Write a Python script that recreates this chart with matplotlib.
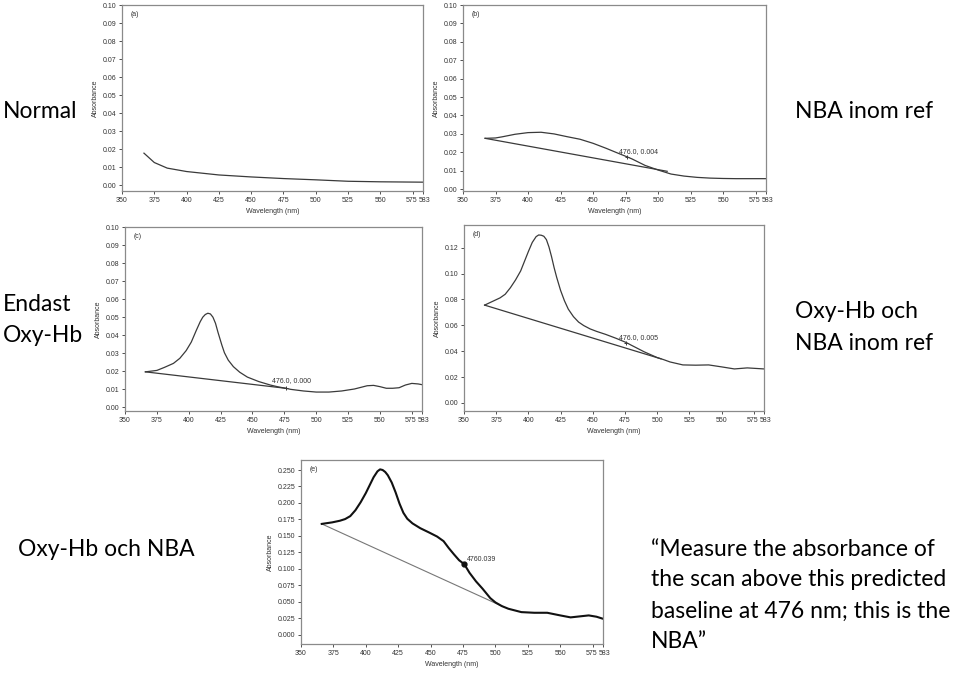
import matplotlib
matplotlib.use("Agg")
import matplotlib.pyplot as plt
from matplotlib.transforms import ScaledTranslation

# ---------------- data ----------------
x_ticks = [350, 375, 400, 425, 450, 475, 500, 525, 550, 575, 583]
x_tick_labels = ["350", "375", "400", "425", "450", "475", "500", "525", "550", "575", "583"]

yt_abc = [0.00, 0.01, 0.02, 0.03, 0.04, 0.05, 0.06, 0.07, 0.08, 0.09, 0.10]
yt_d = [0.00, 0.02, 0.04, 0.06, 0.08, 0.10, 0.12]
yt_e = [0.000, 0.025, 0.050, 0.075, 0.100, 0.125, 0.150, 0.175, 0.200, 0.225, 0.250]

wl_a = [367, 375, 385, 400, 425, 450, 475, 500, 525, 550, 583]
abs_a = [0.0178, 0.0126, 0.0095, 0.0076, 0.0057, 0.0046, 0.0037, 0.0030, 0.0022, 0.0019, 0.0017]

wl_b = [367, 375, 380, 390, 400, 410, 420, 430, 440, 450, 460, 470, 476, 480, 490, 500,
        510, 520, 530, 540, 550, 560, 570, 583]
abs_b = [0.0276, 0.0278, 0.0284, 0.0298, 0.0307, 0.0309, 0.0300, 0.0285, 0.0271, 0.0249,
         0.0222, 0.0193, 0.0176, 0.0164, 0.0129, 0.0104, 0.0082, 0.0071, 0.0064, 0.0060,
         0.0058, 0.0057, 0.0057, 0.0057]
base_wl_b = [367, 507]
base_abs_b = [0.0276, 0.0097]

wl_c = [366, 375, 381, 388, 393, 398, 402, 406, 409, 411, 413, 415, 417, 419, 421, 423,
        426, 428, 431, 435, 440, 446, 455, 464, 470, 476, 480, 490, 500, 505, 510, 520,
        530, 540, 545, 550, 555, 560, 565, 570, 575, 580, 583]
abs_c = [0.0197, 0.0205, 0.0222, 0.0244, 0.0272, 0.0315, 0.0362, 0.0428, 0.0475, 0.0500,
         0.0515, 0.0522, 0.0518, 0.0500, 0.0466, 0.0415, 0.0345, 0.0303, 0.0262, 0.0226,
         0.0195, 0.0168, 0.0143, 0.0124, 0.0114, 0.0106, 0.0100, 0.0091, 0.0085, 0.0085,
         0.0085, 0.0091, 0.0102, 0.0120, 0.0122, 0.0115, 0.0106, 0.0106, 0.0109, 0.0124,
         0.0133, 0.0130, 0.0126]
base_wl_c = [366, 476]
base_abs_c = [0.0197, 0.0106]

wl_d = [366, 372, 378, 382, 386, 390, 394, 397, 400, 403, 406, 408, 410, 412, 414, 416,
        418, 420, 422, 425, 428, 431, 435, 439, 443, 448, 453, 460, 468, 476, 480, 490,
        500, 505, 510, 520, 530, 540, 550, 560, 570, 583]
abs_d = [0.0756, 0.0784, 0.0812, 0.0840, 0.0890, 0.0950, 0.1020, 0.1095, 0.1170, 0.1240,
         0.1285, 0.1298, 0.1296, 0.1288, 0.1262, 0.1205, 0.1130, 0.1045, 0.0970, 0.0870,
         0.0790, 0.0725, 0.0667, 0.0625, 0.0598, 0.0572, 0.0553, 0.0530, 0.0500, 0.0467,
         0.0446, 0.0395, 0.0351, 0.0335, 0.0317, 0.0294, 0.0292, 0.0294, 0.0279, 0.0263,
         0.0271, 0.0263]
base_wl_d = [366, 503]
base_abs_d = [0.0756, 0.0341]

wl_e = [366, 374, 380, 384, 388, 392, 396, 400, 403, 406, 409, 411, 413, 415, 417, 420,
        423, 426, 429, 432, 436, 442, 449, 455, 460, 464, 468, 472, 476, 480, 485, 490,
        496, 500, 505, 510, 520, 530, 540, 550, 558, 565, 572, 578, 583]
abs_e = [0.1682, 0.1705, 0.1730, 0.1755, 0.1800, 0.1890, 0.2010, 0.2150, 0.2270, 0.2390,
         0.2480, 0.2510, 0.2500, 0.2470, 0.2420, 0.2310, 0.2160, 0.1990, 0.1850, 0.1760,
         0.1690, 0.1617, 0.1550, 0.1490, 0.1420, 0.1315, 0.1220, 0.1130, 0.1070, 0.0940,
         0.0810, 0.0700, 0.0556, 0.0490, 0.0434, 0.0394, 0.0343, 0.0333, 0.0333, 0.0293,
         0.0263, 0.0278, 0.0293, 0.0273, 0.0242]
base_wl_e = [366, 505]
base_abs_e = [0.1682, 0.0434]

mark_wl = 476
mark_b, mark_c, mark_d, mark_e = 0.0176, 0.0106, 0.0467, 0.107
ann_b, ann_c, ann_d, ann_e = "476.0, 0.004", "476.0, 0.000", "476.0, 0.005", "4760.039"

# ---------------- figure ----------------
W, H = 960, 673
fig = plt.figure(figsize=(W / 100, H / 100), dpi=100)
fig.patch.set_facecolor("white")

CHART_FONT = "Liberation Sans"
FS = 5.0
FRAME = "#8a8a8a"
TXT = "#333333"
LINE = "#3a3a3a"


def make_ax(l, r, t, b):
    return fig.add_axes([l / W, 1 - b / H, (r - l) / W, (b - t) / H])


def style(ax, yticks, yfmt, ylim, label):
    ax.set_xlim(350, 583)
    ax.set_ylim(*ylim)
    ax.set_xticks(x_ticks)
    ax.set_xticklabels(x_tick_labels)
    ax.set_yticks(yticks)
    ax.set_yticklabels([yfmt.format(v) for v in yticks])
    for s in ax.spines.values():
        s.set_color(FRAME)
        s.set_linewidth(0.9)
    ax.tick_params(axis="both", length=2.5, width=0.6, color=TXT, labelsize=FS,
                   labelcolor=TXT, pad=1.5)
    for lab in ax.get_xticklabels() + ax.get_yticklabels():
        lab.set_fontfamily(CHART_FONT)
    xl = ax.get_xticklabels()
    xl[-2].set_transform(xl[-2].get_transform() + ScaledTranslation(-1.5 / 100, 0, fig.dpi_scale_trans))
    xl[-1].set_transform(xl[-1].get_transform() + ScaledTranslation(1.5 / 100, 0, fig.dpi_scale_trans))
    ax.set_xlabel("Wavelength (nm)", fontsize=FS, color=TXT, family=CHART_FONT, labelpad=3)
    ax.set_ylabel("Absorbance", fontsize=FS, color=TXT, family=CHART_FONT, labelpad=3)
    ax.text(0.03, 0.95, label, transform=ax.transAxes, fontsize=FS, color=TXT,
            family=CHART_FONT, va="center", ha="left")


# (a)
ax_a = make_ax(122, 423, 5, 191)
ax_a.plot(wl_a, abs_a, color=LINE, lw=0.9)
style(ax_a, yt_abc, "{:.2f}", (-0.0032, 0.10), "(a)")

# (b)
ax_b = make_ax(463, 766, 5, 191)
ax_b.plot(wl_b, abs_b, color=LINE, lw=0.9)
ax_b.plot(base_wl_b, base_abs_b, color=LINE, lw=0.9)
ax_b.plot([mark_wl], [mark_b], marker="+", ms=3, color=LINE, mew=0.7)
ax_b.text(470, 0.0204, ann_b, fontsize=FS, color=TXT, family=CHART_FONT, va="center")
style(ax_b, yt_abc, "{:.2f}", (-0.001, 0.10), "(b)")

# (c)
ax_c = make_ax(125, 422, 227, 411)
ax_c.plot(wl_c, abs_c, color=LINE, lw=0.9)
ax_c.plot(base_wl_c, base_abs_c, color=LINE, lw=0.9)
ax_c.plot([mark_wl], [mark_c], marker="+", ms=3, color=LINE, mew=0.7)
ax_c.text(465, 0.0148, ann_c, fontsize=FS, color=TXT, family=CHART_FONT, va="center")
style(ax_c, yt_abc, "{:.2f}", (-0.002, 0.10), "(c)")

# (d)
ax_d = make_ax(464, 764, 225, 411)
ax_d.plot(wl_d, abs_d, color=LINE, lw=0.9)
ax_d.plot(base_wl_d, base_abs_d, color=LINE, lw=0.9)
ax_d.plot([mark_wl], [mark_d], marker="+", ms=3, color=LINE, mew=0.7)
ax_d.text(470, 0.0506, ann_d, fontsize=FS, color=TXT, family=CHART_FONT, va="center")
style(ax_d, yt_d, "{:.2f}", (-0.0062, 0.1375), "(d)")

# (e)
ax_e = make_ax(301, 603, 460, 644)
ax_e.plot(base_wl_e, base_abs_e, color="#777777", lw=0.8)
ax_e.plot(wl_e, abs_e, color="#111111", lw=1.5)
ax_e.plot([mark_wl], [mark_e], marker="o", ms=3.5, color="#111111")
ax_e.text(478, 0.114, ann_e, fontsize=FS, color=TXT, family=CHART_FONT, va="center")
style(ax_e, yt_e, "{:.3f}", (-0.0141, 0.2652), "(e)")

# ---------------- big side texts ----------------
BIG = 16.5
BIGFONT = ["Lato", "DejaVu Sans"]


def big(x, y, s):
    fig.text(x / W, 1 - y / H, s, fontsize=BIG, family=BIGFONT, va="center", ha="left",
             color="black")


big(3, 111, "Normal")
big(795, 111, "NBA inom ref")
big(3, 305, "Endast")
big(3, 336, "Oxy-Hb")
big(795, 312, "Oxy-Hb och")
big(795, 344, "NBA inom ref")
big(18, 550, "Oxy-Hb och NBA")
big(651, 550, "\u201cMeasure the absorbance of")
big(651, 580, "the scan above this predicted")
big(651, 611, "baseline at 476 nm; this is the")
big(651, 641, "NBA\u201d")

fig.savefig("out.png", dpi=100, facecolor="white")
